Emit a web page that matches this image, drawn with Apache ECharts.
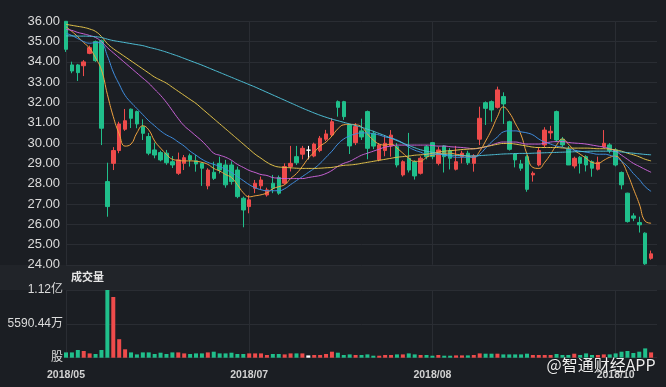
<!DOCTYPE html>
<html><head><meta charset="utf-8">
<script src="https://cdn.jsdelivr.net/npm/echarts@6/dist/echarts.min.js"></script>
<style>html,body{margin:0;padding:0;background:#1b1e23;}#c{width:666px;height:387px;}</style>
</head><body><div id="c"></div>
<script>
const dates = ["2018/05/28","2018/05/29","2018/05/30","2018/05/31",
"2018/06/01","2018/06/04","2018/06/05","2018/06/06","2018/06/07","2018/06/08","2018/06/11","2018/06/12","2018/06/13","2018/06/14","2018/06/15","2018/06/19","2018/06/20","2018/06/21","2018/06/22","2018/06/25","2018/06/26","2018/06/27","2018/06/28","2018/06/29",
"2018/07/03","2018/07/04","2018/07/05","2018/07/06","2018/07/09","2018/07/10","2018/07/11","2018/07/12","2018/07/13","2018/07/16","2018/07/17","2018/07/18","2018/07/19","2018/07/20","2018/07/23","2018/07/24","2018/07/25","2018/07/26","2018/07/27","2018/07/30","2018/07/31",
"2018/08/01","2018/08/02","2018/08/03","2018/08/06","2018/08/07","2018/08/08","2018/08/09","2018/08/10","2018/08/13","2018/08/14","2018/08/15","2018/08/16","2018/08/17","2018/08/20","2018/08/21","2018/08/22","2018/08/23","2018/08/24","2018/08/27","2018/08/28","2018/08/29","2018/08/30","2018/08/31",
"2018/09/03","2018/09/04","2018/09/05","2018/09/06","2018/09/07","2018/09/10","2018/09/11","2018/09/12","2018/09/13","2018/09/14","2018/09/18","2018/09/19","2018/09/20","2018/09/21","2018/09/24","2018/09/26","2018/09/27","2018/09/28",
"2018/10/02","2018/10/03","2018/10/04","2018/10/05","2018/10/08","2018/10/09","2018/10/10","2018/10/11","2018/10/12","2018/10/15","2018/10/16","2018/10/18","2018/10/19","2018/10/22","2018/10/23"];

const opens = [36.00,33.85,33.85,33.81,34.42,35.00,35.04,28.10,29.00,29.63, 30.68,31.67,31.55,30.81,30.32,29.66,29.53,29.50,29.08,28.51, 29.00,29.38,29.13,29.00,27.89,28.56,29.00,28.92,28.92,28.67, 27.28,26.87,27.77,27.89,27.44,28.02,28.30,28.02,28.84,29.33, 29.45,29.65,29.36,29.63,30.19,30.40,32.04,32.04,30.89,30.02, 30.60,31.55,30.48,29.17,29.63,29.86,29.82,28.43,29.25,29.08, 28.51,29.82,30.02,29.00,29.86,29.63,28.71,29.33,29.50,29.00, 30.19,31.99,32.04,31.76,32.29,31.05,29.46,28.97,29.33,28.43, 28.92,29.91,30.50,31.55,30.19,29.69,28.87,29.30,29.33,29.08, 28.71,29.82,29.91,29.66,28.55,27.53,26.41,26.08,25.56,24.32];
const closes = [34.62,33.55,33.47,34.00,34.70,34.06,30.73,26.87,29.63,30.94, 31.10,31.22,30.94,30.48,29.50,29.41,29.17,29.03,28.92,29.17, 29.28,29.17,28.97,28.76,28.67,28.26,28.67,27.94,28.10,27.36, 26.70,27.20,28.02,28.18,27.69,27.77,27.53,28.84,29.00,29.03, 29.74,29.65,29.95,30.24,30.45,31.05,31.76,31.30,29.86,30.81, 30.30,29.74,29.85,29.91,29.99,30.39,28.92,29.08,28.67,28.38, 29.25,29.33,29.33,29.66,29.33,29.25,29.08,29.50,29.03,29.37, 31.22,31.71,31.63,32.62,31.93,29.69,29.17,28.76,27.72,28.51, 29.63,30.64,30.58,30.15,29.91,28.92,29.25,29.00,28.92,28.76, 29.05,29.99,29.63,28.92,27.94,26.13,26.30,25.97,24.05,24.54];
const lows = [34.49,33.44,33.06,33.30,34.38,34.00,29.90,26.37,28.67,29.50, 30.60,30.74,30.73,30.15,29.40,29.25,29.10,28.93,28.77,28.43, 28.67,28.84,28.59,27.89,27.72,28.18,28.50,27.80,27.95,27.28, 25.85,26.54,27.53,27.70,27.36,27.53,27.45,27.95,28.60,28.92, 29.20,29.20,29.30,29.55,30.10,30.30,31.30,31.14,29.46,29.90, 30.15,29.20,29.70,29.10,29.35,29.33,28.80,28.35,28.55,28.20, 28.45,29.20,29.20,28.90,28.55,28.70,28.65,29.00,28.92,28.59, 29.90,30.89,31.05,31.70,30.94,29.63,28.80,28.63,27.60,28.10, 28.85,29.80,30.20,30.05,29.80,28.92,28.75,28.50,28.60,28.34, 28.65,29.75,29.50,28.85,27.72,26.08,26.15,25.59,24.00,24.25];
const highs = [36.00,34.01,33.90,34.09,34.80,35.05,35.10,29.03,29.80,31.05, 31.68,31.70,31.60,31.17,30.50,30.02,29.62,29.66,29.36,29.53, 29.41,29.48,29.41,29.05,28.76,29.08,29.33,29.17,29.10,28.84, 27.36,27.44,28.18,28.35,27.80,28.43,28.40,29.00,29.86,29.86, 29.86,29.86,30.02,30.35,30.65,31.22,32.10,32.08,30.95,30.98, 31.20,31.60,30.60,30.00,30.40,30.64,30.00,29.15,30.50,29.15, 29.35,29.90,30.05,29.82,29.90,29.75,29.86,29.62,29.62,29.45, 31.79,32.05,32.10,32.78,32.50,31.10,29.50,29.17,29.40,28.60, 29.80,30.78,30.85,31.60,30.30,29.85,29.33,29.36,29.40,29.15, 29.33,30.64,30.00,29.75,28.60,27.55,26.54,26.37,25.60,24.70];

const volumes = [8750000,8750000,12720000,11070000,7100000,6110000,12720000,111808800,100250000,30550000,
 13870000,8750000,5450000,8750000,8750000,6110000,8260000,6110000,8750000,8750000,
 7100000,6110000,7100000,7100000,8750000,9910000,7100000,7100000,8260000,6110000,
 6110000,7100000,7100000,7100000,4460000,6110000,6110000,5450000,7100000,7100000,
 7100000,3800000,4460000,4460000,6110000,9910000,8260000,4460000,5450000,4460000,
 4460000,5450000,3300000,3300000,4460000,4460000,5450000,5450000,7100000,5450000,
 4460000,4460000,3300000,4460000,3300000,3300000,3800000,3800000,3800000,4460000,
 7100000,6610000,6610000,6610000,5450000,5450000,5450000,5450000,6610000,4460000,
 4460000,4460000,4460000,6110000,4460000,4460000,6610000,4460000,7100000,4460000,
 4460000,5450000,5450000,7100000,9910000,11070000,7760000,9910000,15360000,8750000];

const ma5 = [35.73,35.50,35.24,34.95,34.67,34.20,33.60,32.40,31.30,30.45, 29.85,29.95,30.50,30.85,30.65,30.10,29.75,29.45,29.20,29.15, 29.12,29.12,29.10,29.05,28.95,28.75,28.62,28.45,28.30,27.95, 27.55,27.35,27.40,27.45,27.55,27.75,27.85,27.95,28.25,28.50, 28.85,29.25,29.55,29.85,30.05,30.35,30.70,30.90,30.92,30.90, 30.80,30.45,30.15,29.95,29.90,29.95,29.75,29.50,29.25,29.10, 29.10,29.30,29.40,29.45,29.50,29.50,29.45,29.40,29.35,29.30, 29.60,30.10,30.65,31.30,31.78,31.50,30.98,30.40,29.45,28.80, 28.75,29.05,29.45,29.90,30.20,29.95,29.65,29.45,29.25,29.05, 29.00,29.15,29.30,29.35,29.10,28.50,27.75,27.00,26.15,26.05];
const ma10 = [35.41,35.30,35.15,35.00,34.92,34.95,34.90,34.30,33.50,32.90, 32.35,32.00,31.70,31.40,31.10,30.85,30.60,30.40,30.25,30.05, 29.85,29.60,29.40,29.20,29.05,28.95,28.85,28.70,28.55,28.35, 28.15,27.95,27.80,27.70,27.65,27.65,27.65,27.75,27.95,28.15, 28.35,28.55,28.75,29.00,29.30,29.60,29.95,30.20,30.35,30.45, 30.50,30.50,30.45,30.40,30.30,30.25,30.15,30.00,29.80,29.65, 29.55,29.45,29.45,29.45,29.40,29.35,29.30,29.30,29.30,29.30, 29.45,29.75,30.05,30.30,30.55,30.60,30.60,30.55,30.50,30.40, 30.20,30.05,29.95,29.85,29.80,29.70,29.65,29.60,29.55,29.50, 29.45,29.45,29.40,29.30,29.10,28.85,28.50,28.20,27.85,27.62];
const ma20 = [35.60,35.55,35.45,35.38,35.30,35.20,35.00,34.70,34.45,34.20, 33.95,33.70,33.45,33.20,32.95,32.65,32.35,32.00,31.60,31.20, 30.85,30.60,30.35,30.10,29.80,29.50,29.40,29.30,29.15,28.95, 28.80,28.65,28.55,28.45,28.40,28.30,28.27,28.25,28.25,28.25, 28.25,28.30,28.35,28.40,28.50,28.65,28.85,29.00,29.10,29.25, 29.40,29.50,29.60,29.70,29.80,29.85,29.90,29.90,29.90,29.90, 29.90,29.90,29.88,29.85,29.85,29.82,29.80,29.78,29.75,29.72, 29.75,29.82,29.90,30.00,30.05,30.05,30.05,30.00,29.95,29.95, 29.95,30.00,30.05,30.07,30.07,30.03,30.00,29.98,29.95,29.90, 29.85,29.80,29.72,29.60,29.40,29.20,29.00,28.85,28.70,28.56];
const ma30 = [35.85,35.80,35.75,35.70,35.62,35.50,35.25,34.90,34.65,34.45, 34.25,34.05,33.85,33.65,33.45,33.25,33.10,32.95,32.75,32.55, 32.35,32.15,31.95,31.70,31.45,31.20,30.95,30.70,30.45,30.20, 29.95,29.70,29.45,29.25,29.05,28.90,28.82,28.80,28.78,28.76, 28.75,28.75,28.75,28.76,28.78,28.80,28.85,28.90,28.92,28.95, 29.00,29.05,29.10,29.15,29.20,29.25,29.30,29.33,29.36,29.40, 29.42,29.45,29.50,29.55,29.60,29.62,29.65,29.68,29.70,29.72, 29.76,29.82,29.88,29.94,29.98,29.98,29.95,29.90,29.85,29.80, 29.78,29.78,29.78,29.78,29.76,29.75,29.75,29.75,29.75,29.74, 29.72,29.72,29.70,29.66,29.60,29.50,29.42,29.32,29.20,29.12];
const ma60 = [35.28,35.28,35.27,35.27,35.26,35.24,35.20,35.12,35.05,35.00, 34.95,34.90,34.85,34.80,34.72,34.65,34.57,34.48,34.38,34.28, 34.17,34.06,33.95,33.84,33.72,33.60,33.48,33.36,33.24,33.12, 33.00,32.88,32.76,32.63,32.50,32.37,32.24,32.11,31.98,31.85, 31.72,31.60,31.48,31.37,31.27,31.18,31.10,31.02,30.94,30.86, 30.78,30.68,30.58,30.47,30.36,30.24,30.12,30.00,29.88,29.77, 29.67,29.60,29.54,29.48,29.44,29.41,29.39,29.38,29.37,29.37, 29.38,29.40,29.42,29.44,29.46,29.47,29.48,29.49,29.49,29.50, 29.51,29.52,29.53,29.54,29.55,29.56,29.57,29.58,29.59,29.60, 29.60,29.60,29.60,29.58,29.56,29.53,29.50,29.47,29.44,29.42];

const priceMin = 24, priceMax = 36, priceStep = 1;
const maNames = ['MA5','MA10','MA20','MA30','MA60'];
const maData = [ma5, ma10, ma20, ma30, ma60];

const UP = '#ee4b4b', DOWN = '#20bf8b', DOJI = '#ffffff';
const maColors = ['#eea23f', '#3f8ee0', '#c862d6', '#e2c24a', '#4ebfd6'];
const gridColor = '#2a2d33';
const FONT = '"Liberation Sans", Arial, "Noto Sans CJK SC", sans-serif';

const candles = opens.map((o, i) => [o, closes[i], lows[i], highs[i]]);
const volMax = Math.max(...volumes);
const volItems = volumes.map((v, i) => ({
  value: v,
  itemStyle: { color: closes[i] > opens[i] ? UP : (closes[i] < opens[i] ? DOWN : DOJI) }
}));

function volFmt(v) {
  if (v === 0) return '股';
  if (v >= 1e8) return (v / 1e8).toFixed(2) + '亿';
  return (v / 1e4).toFixed(2) + '万';
}

const chart = echarts.init(document.getElementById('c'), null, { renderer: 'canvas' });
chart.setOption({
  backgroundColor: '#1b1e23',
  animation: false,
  grid: [
    { left: 66, right: 9, top: 21.3, height: 243.5 },
    { left: 66, right: 9, top: 290, height: 67.7 }
  ],
  xAxis: [
    { type: 'category', gridIndex: 0, data: dates, boundaryGap: false,
      axisLine: { show: false }, axisTick: { show: false }, axisLabel: { show: false },
      splitLine: { show: true, interval: 30, lineStyle: { color: gridColor, width: 1 } } },
    { type: 'category', gridIndex: 1, data: dates, boundaryGap: false,
      axisLine: { show: false }, axisTick: { show: false },
      axisLabel: { show: true, interval: 30, margin: 12, color: '#d2d2d2', fontSize: 10.5, fontWeight: 'bold',
        fontFamily: FONT, formatter: v => v.slice(0, 7) },
      splitLine: { show: true, interval: 30, lineStyle: { color: gridColor, width: 1 } } }
  ],
  yAxis: [
    { type: 'value', gridIndex: 0, min: priceMin, max: priceMax, interval: priceStep,
      axisLine: { show: false }, axisTick: { show: false },
      axisLabel: { color: '#dcdcdc', fontSize: 13, margin: 6, fontFamily: FONT, formatter: v => v.toFixed(2) },
      splitLine: { show: true, lineStyle: { color: gridColor, width: 1 } } },
    { type: 'value', gridIndex: 1, min: 0, max: volMax, interval: volMax / 2,
      axisLine: { show: false }, axisTick: { show: false },
      axisLabel: { color: '#dcdcdc', fontSize: 12, margin: 3, fontFamily: FONT, formatter: volFmt, padding: [4, 0, 0, 0] },
      splitLine: { show: true, lineStyle: { color: gridColor, width: 1 } } }
  ],
  graphic: [
    { type: 'rect', z: -10, shape: { x: 0, y: 265, width: 666, height: 25 }, style: { fill: '#212429' } },
    { type: 'text', z: 10, left: 71, top: 271, style: { text: '成交量', fill: '#e8e8e8', font: 'bold 11px "Noto Sans CJK SC", sans-serif' } },
    { type: 'text', z: 100, left: 546, top: 356, style: { text: '@智通财经APP', fill: 'rgba(255,255,255,0.92)', font: '16px "Noto Sans CJK SC", sans-serif', stroke: 'rgba(0,0,0,0.35)', lineWidth: 1 } }
  ],
  series: [
    { type: 'candlestick', name: 'K', xAxisIndex: 0, yAxisIndex: 0, data: candles, barWidth: 4, clip: false, z: 2,
      itemStyle: { color: UP, color0: DOWN, borderColor: UP, borderColor0: DOWN, borderColorDoji: DOJI, borderWidth: 1 } },
    ...maData.map((d, k) => ({
      type: 'line', name: maNames[k], xAxisIndex: 0, yAxisIndex: 0, data: d, smooth: true, showSymbol: false, symbol: 'none',
      z: 3, lineStyle: { color: maColors[k], width: 1 }
    })),
    { type: 'bar', name: 'VOL', xAxisIndex: 1, yAxisIndex: 1, data: volItems, barWidth: 4, clip: false }
  ]
});
</script>
</body></html>
